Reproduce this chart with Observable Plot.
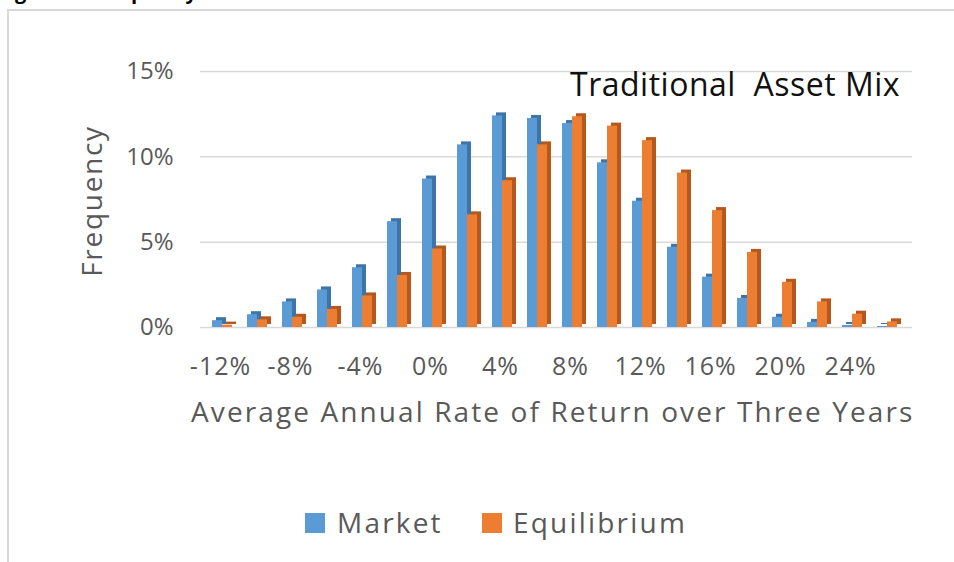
<!DOCTYPE html>
<html>
<head>
<meta charset="utf-8">
<script src="https://cdn.jsdelivr.net/npm/d3@7"></script>
<script src="https://cdn.jsdelivr.net/npm/@observablehq/plot@0.6"></script>
<style>
  html, body { margin: 0; padding: 0; background: #fff; }
  #wrap { position: relative; width: 954px; height: 562px; overflow: hidden; background: #fff; font-family: 'Open Sans', sans-serif; }
  #chart { position: absolute; left: 0; top: 0; }
  .frame { position: absolute; left: 7px; top: 9px; right: -10px; bottom: -10px; border-left: 2px solid #d9d9d9; border-top: 2px solid #d9d9d9; }
  .title { position: absolute; left: -2px; top: -18px; font-size: 20px; line-height: 20px; font-weight: bold; color: #000; white-space: pre; }
  .ylabel { position: absolute; left: 91px; top: 201px; font-size: 28px; line-height: 1; color: #595959; letter-spacing: 1.7px; transform: translate(-50%, -50%) rotate(-90deg); white-space: nowrap; }
  .xlabel { position: absolute; left: 191px; top: 397px; font-size: 28px; line-height: 1; color: #595959; letter-spacing: 2.1px; white-space: nowrap; }
  .annot { position: absolute; left: 570px; top: 68px; font-size: 32px; line-height: 1; color: #111; white-space: pre; letter-spacing: 0.5px; }
  .sw { position: absolute; width: 20px; height: 20px; top: 513px; }
  .lt { position: absolute; top: 508px; font-size: 28px; line-height: 1; color: #595959; letter-spacing: 2.2px; white-space: nowrap; }
  #chart svg g[aria-label="x-axis tick label"] { letter-spacing: 1px; }
</style>
</head>
<body>
<div id="wrap">
  <div id="chart"></div>
  <div class="frame"></div>
  <div class="title">Figure 4   Frequency Distribution of Three-Year Returns</div>
  <div class="ylabel">Frequency</div>
  <div class="xlabel">Average Annual Rate of Return over Three Years</div>
  <div class="annot">Traditional  Asset Mix</div>
  <div class="sw" id="sw0" style="left:305px"></div>
  <div class="lt" id="lt0" style="left:337px"></div>
  <div class="sw" id="sw1" style="left:482px"></div>
  <div class="lt" id="lt1" style="left:513px"></div>
</div>
<script>
const categories = ["-12%","-10%","-8%","-6%","-4%","-2%","0%","2%","4%","6%","8%","10%","12%","14%","16%","18%","20%","22%","24%","26%"];
const market = [0.4, 0.75, 1.5, 2.2, 3.5, 6.2, 8.7, 10.7, 12.4, 12.25, 11.95, 9.65, 7.4, 4.7, 2.95, 1.7, 0.6, 0.3, 0.12, 0.06];
const equilibrium = [0.14, 0.45, 0.6, 1.06, 1.85, 3.05, 4.6, 6.6, 8.6, 10.7, 12.35, 11.8, 10.95, 9.05, 6.85, 4.4, 2.65, 1.5, 0.78, 0.33];
const yTicks = [0, 5, 10, 15];
const xTickLabels = ["-12%","-8%","-4%","0%","4%","8%","12%","16%","20%","24%"];
const seriesNames = ["Market", "Equilibrium"];
const colors = ["#5B9BD5", "#ED7D31"];
const sideColors = ["#3F74A8", "#B3591F"];

const mk = categories.map((c, i) => ({cat: c, value: market[i]}));
const eq = categories.map((c, i) => ({cat: c, value: equilibrium[i]}));

const chart = Plot.plot({
  width: 954,
  height: 440,
  marginTop: 71,
  marginBottom: 113,
  marginLeft: 200,
  marginRight: 42,
  style: {fontFamily: "'Open Sans', sans-serif", color: "#595959", background: "transparent", overflow: "visible"},
  x: {type: "band", domain: categories, paddingInner: 0.715, paddingOuter: 0.357, insetLeft: 3.5, insetRight: 7.5},
  y: {domain: [0, 15]},
  marks: [
    Plot.ruleY(yTicks, {stroke: "#d9d9d9", strokeWidth: 1.5}),
    Plot.barY(mk, {x: "cat", y: "value", fill: sideColors[0], dx: -1, dy: -3}),
    Plot.barY(mk, {x: "cat", y: "value", fill: colors[0], dx: -5}),
    Plot.barY(eq, {x: "cat", y: "value", fill: sideColors[1], dx: 9, dy: -3}),
    Plot.barY(eq, {x: "cat", y: "value", fill: colors[1], dx: 5}),
    Plot.axisY(yTicks, {tickSize: 0, tickPadding: 27, fontSize: 24, tickFormat: d => d + "%", label: null}),
    Plot.axisX(xTickLabels, {tickSize: 0, tickPadding: 30, fontSize: 25, dx: -2, label: null})
  ]
});
document.getElementById("chart").appendChild(chart);

seriesNames.forEach((s, i) => {
  document.getElementById("sw" + i).style.background = colors[i];
  document.getElementById("lt" + i).textContent = s;
});
</script>
</body>
</html>
